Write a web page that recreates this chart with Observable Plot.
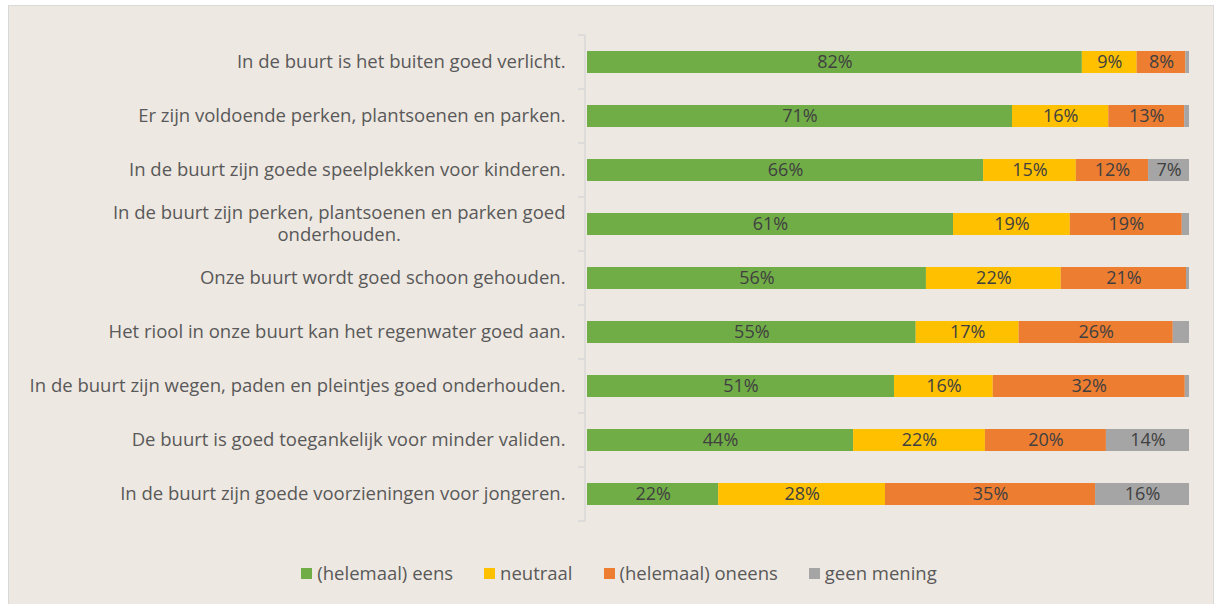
<!DOCTYPE html>
<html>
<head>
<meta charset="utf-8">
<script src="https://cdn.jsdelivr.net/npm/d3@7"></script>
<script src="https://cdn.jsdelivr.net/npm/@observablehq/plot@0.6"></script>
<style>
  html, body { margin: 0; padding: 0; background: #ffffff; }
  #frame {
    position: absolute; left: 8px; top: 5px; width: 1206px; height: 600px;
    box-sizing: border-box; border: 1px solid #D9D9D9; background: #EEE8E2;
    font-family: "Open Sans", sans-serif;
  }
  #chart { position: absolute; left: 0; top: 0; }
  #legend {
    position: absolute; left: 0; right: 0; top: 554px; display: flex; justify-content: center;
    gap: 31px; font-size: 18.5px; color: #595959; font-family: "Open Sans", sans-serif;
    padding-left: 16px; line-height: 26px;
  }
  #legend .item { display: flex; align-items: center; gap: 5px; }
  #legend .sw { width: 11px; height: 11px; display: inline-block; }
</style>
</head>
<body>
<div id="frame">
  <div id="chart"></div>
  <div id="legend"></div>
</div>
<script>
const questions = [
  "In de buurt is het buiten goed verlicht.",
  "Er zijn voldoende perken, plantsoenen en parken.",
  "In de buurt zijn goede speelplekken voor kinderen.",
  "In de buurt zijn perken, plantsoenen en parken goed onderhouden.",
  "Onze buurt wordt goed schoon gehouden.",
  "Het riool in onze buurt kan het regenwater goed aan.",
  "In de buurt zijn wegen, paden en pleintjes goed onderhouden.",
  "De buurt is goed toegankelijk voor minder validen.",
  "In de buurt zijn goede voorzieningen voor jongeren."
];
const categories = ["(helemaal) eens", "neutraal", "(helemaal) oneens", "geen mening"];
const colors = ["#70AD47", "#FFC000", "#ED7D31", "#A5A5A5"];
const eens     = [82.2, 70.6, 65.8, 60.8, 56.3, 54.6, 51.0, 44.2, 21.8];
const neutraal = [9.1, 16.0, 15.4, 19.4, 22.4, 17.1, 16.4, 21.9, 27.7];
const oneens   = [8.1, 12.6, 12.0, 18.6, 20.8, 25.6, 31.9, 20.1, 34.9];
const geen     = [0.6, 0.8, 6.8, 1.2, 0.5, 2.7, 0.7, 13.8, 15.6];

const series = [eens, neutraal, oneens, geen];
const data = [];
questions.forEach((q, i) => {
  series.forEach((s, k) => data.push({q, cat: categories[k], k, value: s[i]}));
});

const W = 1204, H = 540;
const fontFam = '"Open Sans", sans-serif';
const labelSize = 18.5;

// split multi-line label
const line1 = "In de buurt zijn perken, plantsoenen en parken goed";
const line2 = "onderhouden.";
const ctx = document.createElement("canvas").getContext("2d");
ctx.font = `${labelSize}px "Open Sans"`;
const w1 = ctx.measureText(line1).width;

const axisMark = (index, scales, values, dimensions) => {
  const y = scales.y;
  const step = y.step();
  const bw = y.bandwidth();
  const x0 = scales.x(0) - 2;
  const g = d3.create("svg:g");
  const top = y(questions[0]) - (step - bw) / 2;
  const bottom = y(questions[questions.length - 1]) + bw + (step - bw) / 2;
  g.append("line").attr("x1", x0).attr("x2", x0).attr("y1", top).attr("y2", bottom)
    .attr("stroke", "#D9D9D9").attr("stroke-width", 1.5);
  for (let i = 0; i <= questions.length; i++) {
    const yy = top + i * step;
    g.append("line").attr("x1", x0 - 7).attr("x2", x0).attr("y1", yy).attr("y2", yy)
      .attr("stroke", "#D9D9D9").attr("stroke-width", 1.5);
  }
  return g.node();
};

const chart = Plot.plot({
  width: W, height: H,
  marginLeft: 578, marginRight: 24, marginTop: 29, marginBottom: 24,
  style: {background: "transparent", fontFamily: fontFam},
  x: {domain: [0, 100], axis: null},
  y: {domain: questions, paddingInner: 0.59, paddingOuter: 0.295, axis: null},
  color: {domain: categories, range: colors},
  marks: [
    axisMark,
    Plot.barX(data, Plot.stackX({x: "value", y: "q", fill: "cat", order: "k", inset: 0})),
    Plot.text(data, Plot.stackX({
      x: "value", y: "q", z: "cat", order: "k",
      text: d => d.value >= 5 ? `${Math.round(d.value)}%` : "",
      fill: "#404040", fontSize: 18, fontFamily: fontFam
    })),
    Plot.text(questions.filter(q => q !== questions[3]), {
      y: d => d, frameAnchor: "left", dx: -22, textAnchor: "end",
      text: d => d, fill: "#595959", fontSize: labelSize, fontFamily: fontFam
    }),
    Plot.text([questions[3]], {
      y: d => d, frameAnchor: "left", dx: -22, dy: -11, textAnchor: "end",
      text: () => line1, fill: "#595959", fontSize: labelSize, fontFamily: fontFam
    }),
    Plot.text([questions[3]], {
      y: d => d, frameAnchor: "left", dx: -22 - w1 / 2, dy: 11, textAnchor: "middle",
      text: () => line2, fill: "#595959", fontSize: labelSize, fontFamily: fontFam
    })
  ]
});
document.getElementById("chart").appendChild(chart);

const legend = document.getElementById("legend");
categories.forEach((c, i) => {
  const item = document.createElement("div");
  item.className = "item";
  const sw = document.createElement("span");
  sw.className = "sw";
  sw.style.background = colors[i];
  const t = document.createElement("span");
  t.textContent = c;
  item.appendChild(sw); item.appendChild(t);
  legend.appendChild(item);
});
</script>
</body>
</html>
